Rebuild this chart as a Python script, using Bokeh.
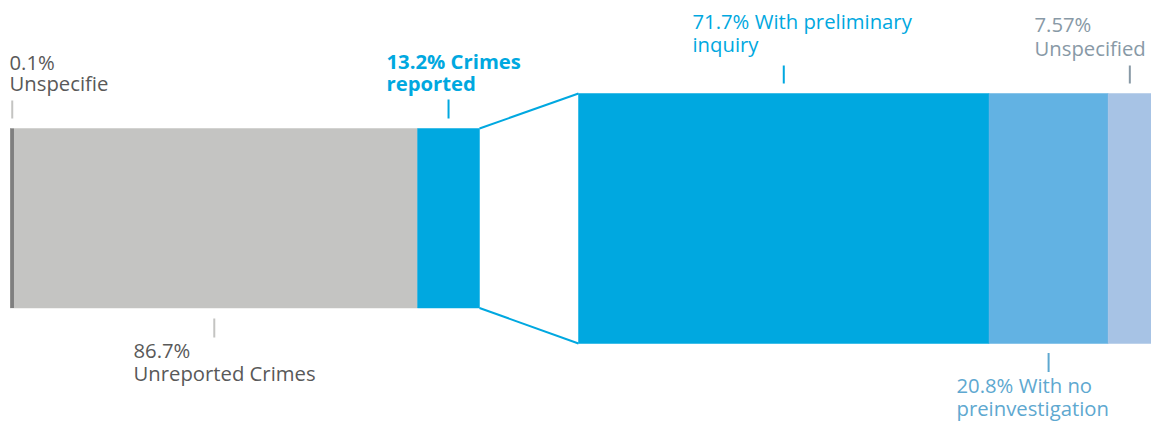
from bokeh.plotting import figure
from bokeh.models import Range1d
from bokeh.core.properties import value
from bokeh.embed import file_html
from bokeh.resources import INLINE

# ---- data ----
left_labels = ["Unspecifie", "Unreported Crimes", "Crimes reported"]
left_values = [0.1, 86.7, 13.2]
left_colors = ["#7f7f7f", "#c4c4c2", "#00a8e0"]

right_labels = ["With preliminary inquiry", "With no preinvestigation", "Unspecified"]
right_values = [71.7, 20.8, 7.57]
right_colors = ["#00a8e0", "#62b2e3", "#a7c3e5"]

# ---- layout (pixel-like data units) ----
LX0, LW, LTOP, LBOT = 10, 469, 128, 307.5
RX0, RW, RTOP, RBOT = 578, 573, 93, 343
DY = -9.5  # baseline correction

p = figure(width=1151, height=423, output_backend="svg", toolbar_location=None,
           x_range=Range1d(0, 1151), y_range=Range1d(423, 0),
           min_border=0, outline_line_color=None)
p.axis.visible = False
p.grid.visible = False
p.background_fill_color = "white"


def segs(x0, total_w, vals):
    tot = sum(vals)
    out = []
    x = x0
    for v in vals:
        w = total_w * v / tot
        out.append((x, x + w))
        x += w
    return out


lsegs = segs(LX0, LW, left_values)
rsegs = segs(RX0, RW, right_values)

# left bar
for (a, b), c in zip(lsegs, left_colors):
    p.quad(left=a, right=b, top=LTOP, bottom=LBOT, fill_color=c, line_color=c,
           line_width=0.5)
# make the tiny unspecified slice visible
a, b = lsegs[0]
p.quad(left=a, right=b + 3, top=LTOP, bottom=LBOT, fill_color=left_colors[0],
       line_color=None)

# right bar
for (a, b), c in zip(rsegs, right_colors):
    p.quad(left=a, right=b, top=RTOP, bottom=RBOT, fill_color=c, line_color=c,
           line_width=0.5)

# connector lines
lend = lsegs[-1][1]
p.line([lend, RX0], [LTOP, RTOP], line_color="#00a8e0", line_width=2)
p.line([lend, RX0], [LBOT, RBOT], line_color="#00a8e0", line_width=2)

# ---- labels ----
FS = "20.3px"
FONT = value("Open Sans")
gray_txt = "#595959"
blue_txt = "#00a8e0"
slate_txt = "#8899a6"
mid_txt = "#5ea8d0"


def label(x, ys, lines, color, style="normal"):
    for y, t in zip(ys, lines):
        p.text(x=[x], y=[y + DY], text=[t], text_font=FONT, text_font_size=FS,
               text_color=color, text_baseline="alphabetic", text_align="left",
               text_font_style=style)


def tick(x, y0, y1, color):
    p.line([x, x], [y0, y1], line_color=color, line_width=2)


def mid(s):
    return (s[0] + s[1]) / 2

# unspecified (left)
tick(mid(lsegs[0]) + 1.5, 100, 118, "#c4c4c2")
label(9, [70.5, 92], [f"{left_values[0]}%", left_labels[0]], gray_txt)
# unreported
tick(mid(lsegs[1]), 318, 337, "#c4c4c2")
label(133, [358.5, 381.5], [f"{left_values[1]}%", left_labels[1]], gray_txt)
# reported
tick(mid(lsegs[2]), 99, 118, blue_txt)
label(386, [69.5, 92], [f"{left_values[2]}% Crimes", "reported"], blue_txt, "bold")

# right
tick(mid(rsegs[0]), 65, 83, blue_txt)
label(692, [30, 53.3], [f"{right_values[0]}% With preliminary", "inquiry"], blue_txt)
tick(mid(rsegs[1]), 352.5, 371.5, mid_txt)
label(956, [394, 417], [f"{right_values[1]}% With no", "preinvestigation"], mid_txt)
tick(mid(rsegs[2]), 65, 83, slate_txt)
label(1034, [33, 56.5], [f"{right_values[2]}%", right_labels[2]], slate_txt)

open("out.html", "w").write(file_html(p, INLINE))
